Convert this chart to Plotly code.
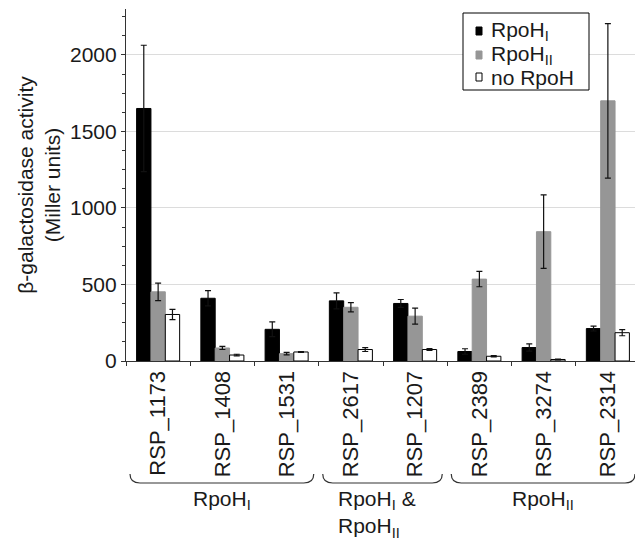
import plotly.graph_objects as go

categories = ["RSP_1173", "RSP_1408", "RSP_1531", "RSP_2617", "RSP_1207",
              "RSP_2389", "RSP_3274", "RSP_2314"]
rpoh1 = [1650, 410, 207, 393, 376, 62, 88, 212]
rpoh1_err = [413, 50, 48, 52, 26, 18, 24, 16]
rpoh2 = [452, 85, 48, 351, 293, 535, 845, 1700]
rpoh2_err = [57, 10, 8, 30, 52, 50, 240, 505]
norpoh = [304, 39, 59, 75, 75, 31, 10, 185]
norpoh_err = [33, 5, 3, 13, 6, 4, 3, 20]
series_names = ["RpoH<sub>I</sub>", "RpoH<sub>II</sub>", "no RpoH"]
groups = [("RpoH<sub>I</sub>", 0, 2), ("RpoH<sub>I</sub> &<br>RpoH<sub>II</sub>", 3, 4),
          ("RpoH<sub>II</sub>", 5, 7)]

OFF = 8  # page body margin
W, H = 643 - OFF, 541 - OFF
ML, MR, MT, MB = 118, 3, 1, 180
pw, ph = W - ML - MR, H - MT - MB

def px2x(px):
    return (px - OFF - ML) / pw

def py2y(py):
    return (H - MB - (py - OFF)) / ph

FONT = "Liberation Sans, Arial, sans-serif"
TXT = "#1a1a1a"

fig = go.Figure()
styles = [("#000000", "#000000"), ("#969696", "#969696"), ("#ffffff", "#000000")]
for name, vals, errs, (fc, lc) in zip(series_names, [rpoh1, rpoh2, norpoh],
                                      [rpoh1_err, rpoh2_err, norpoh_err], styles):
    fig.add_trace(go.Bar(
        x=categories, y=vals, name=name, showlegend=False,
        marker=dict(color=fc, line=dict(color=lc, width=1)),
        error_y=dict(type="data", array=errs, visible=True, color="#111111",
                     thickness=1.2, width=3),
    ))

n = len(categories)
shapes = []
annotations = []
for label, i0, i1 in groups:
    x0 = OFF + ML + pw * i0 / n + 4
    x1 = OFF + ML + pw * (i1 + 1) / n - 5
    yt, yb, r = 474, 483, 10
    path = (f"M {px2x(x0)},{py2y(yt)} Q {px2x(x0)},{py2y(yb)} {px2x(x0 + r)},{py2y(yb)} "
            f"L {px2x(x1 - r)},{py2y(yb)} Q {px2x(x1)},{py2y(yb)} {px2x(x1)},{py2y(yt)}")
    shapes.append(dict(type="path", xref="paper", yref="paper", path=path,
                       line=dict(color="#333333", width=1.2)))
    xc = (x0 + x1) / 2
    if "<br>" in label:
        annotations.append(dict(x=px2x(336), y=py2y(485), xref="paper", yref="paper",
                                text=label, showarrow=False, xanchor="left", yanchor="top",
                                align="left", font=dict(size=21, color=TXT, family=FONT)))
    else:
        annotations.append(dict(x=px2x(xc), y=py2y(485), xref="paper", yref="paper",
                                text=label, showarrow=False, xanchor="center", yanchor="top",
                                font=dict(size=21, color=TXT, family=FONT)))

# manual legend (box, swatches, labels)
shapes.append(dict(type="rect", xref="paper", yref="paper",
                   x0=px2x(463), x1=px2x(589), y0=py2y(13), y1=py2y(90),
                   line=dict(color="#000000", width=1), fillcolor="white", layer="above"))
leg_y = [30, 54, 76]
for (fc, lc), name, yc in zip(styles, series_names, leg_y):
    shapes.append(dict(type="rect", xref="paper", yref="paper",
                       x0=px2x(476), x1=px2x(482), y0=py2y(yc - 3), y1=py2y(yc + 5),
                       line=dict(color=lc, width=1), fillcolor=fc, layer="above"))
    annotations.append(dict(x=px2x(489), y=py2y(yc + 1), xref="paper", yref="paper",
                            text=name, showarrow=False, xanchor="left", yanchor="middle",
                            font=dict(size=21, color=TXT, family=FONT)))

fig.update_layout(
    width=W, height=H,
    margin=dict(l=ML, r=MR, t=MT, b=MB, pad=0),
    paper_bgcolor="white", plot_bgcolor="white",
    barmode="group", bargap=0.33, bargroupgap=0,
    font=dict(family=FONT, color=TXT, size=20),
    showlegend=False,
    shapes=shapes, annotations=annotations,
)
fig.update_xaxes(
    automargin=False,
    showline=True, linecolor="#333333", linewidth=1.2,
    ticks="outside", ticklen=4, tickcolor="#333333", tickson="boundaries",
    tickangle=-90, tickfont=dict(size=22, color=TXT, family=FONT),
    showgrid=False,
)
fig.update_yaxes(
    automargin=False,
    range=[0, 2300], dtick=500, showline=True, linecolor="#333333", linewidth=1.2,
    ticks="outside", ticklen=4, tickcolor="#333333",
    minor=dict(dtick=125, ticks="outside", ticklen=3, tickcolor="#333333", showgrid=False),
    showgrid=True, gridcolor="#dcdcdc", gridwidth=1, zeroline=False,
    tickfont=dict(size=21, color=TXT, family=FONT),
    title=dict(text="β-galactosidase activity<br>(Miller units)",
               font=dict(size=21, color=TXT, family=FONT), standoff=3),
)

fig.write_html("out.html")
